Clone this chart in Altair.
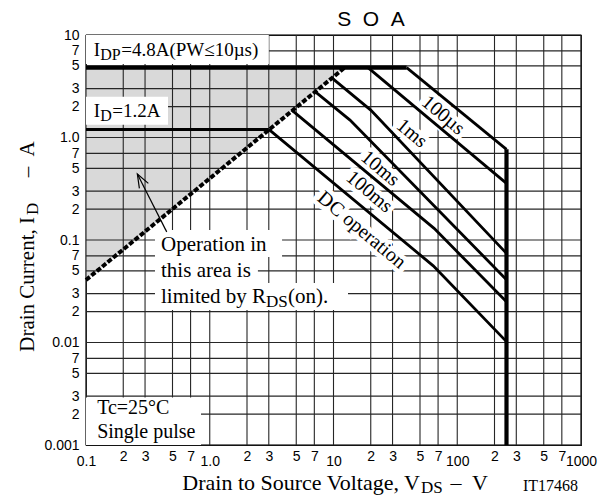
import altair as alt
import pandas as pd

# ---------------- axis ticks ----------------
X_TICKS = [0.1, 0.2, 0.3, 0.5, 0.7, 1, 2, 3, 5, 7, 10, 20, 30, 50, 70, 100, 200, 300, 500, 700, 1000]
X_LABELS = ["0.1", "2", "3", "5", "7", "1.0", "2", "3", "5", "7", "10", "2", "3", "5", "7",
            "100", "2", "3", "5", "7", "1000"]
X_DECADES = [0.1, 1, 10, 100, 1000]
Y_TICKS = [0.001, 0.002, 0.003, 0.005, 0.007, 0.01, 0.02, 0.03, 0.05, 0.07, 0.1, 0.2, 0.3, 0.5, 0.7,
           1, 2, 3, 5, 7, 10]
Y_LABELS = ["0.001", "2", "3", "5", "7", "0.01", "2", "3", "5", "7", "0.1", "2", "3", "5", "7",
            "1.0", "2", "3", "5", "7", "10"]

# ---------------- SOA curves (V, A) ----------------
SERIES = ["10us", "100us", "1ms", "10ms", "100ms", "DC"]
SERIES_V = [[39, 250], [19, 250], [9.8, 20, 250], [7.1, 13.6, 250], [4.6, 65, 250], [3.0, 64, 250]]
SERIES_I = [[4.8, 0.767], [4.8, 0.357], [3.78, 1.85, 0.074], [2.8, 1.48, 0.041],
            [1.85, 0.13, 0.025], [1.2, 0.056, 0.0102]]

IDP_V = [0.1, 39]
IDP_I = [4.8, 4.8]
ID_V = [0.1, 3.0]
ID_I = [1.2, 1.2]
VDSS_V = [250, 250]
VDSS_I = [0.767, 0.001]
RDS_V = [0.1, 12.3]
RDS_I = [0.0407, 4.8]
SHADE_V = [0.1, 12.3]
SHADE_LO = [0.0407, 4.8]
SHADE_HI = [4.8, 4.8]

# rotated curve labels
LABELS = ["100\u00b5s", "1ms", "10ms", "100ms", "DC operation"]
LABEL_V = [77.1, 42.9, 23.8, 19.5, 16.9]
LABEL_I = [1.65, 1.1, 0.5, 0.296, 0.125]

# white label boxes (v1, v2, i1, i2)
BOX_V1 = [0.1, 0.1, 0.1, 0.361, 0.361, 0.361]
BOX_V2 = [3.0, 0.46, 0.85, 3.84, 2.45, 13.1]
BOX_I1 = [5.2, 1.33, 0.001, 0.0683, 0.038, 0.0208]
BOX_I2 = [10, 2.5, 0.0029, 0.125, 0.0683, 0.038]

# arrow
ARROW_V = [0.449, 0.26]
ARROW_I = [0.12, 0.44]
HEAD_V = [0.319, 0.26, 0.27]
HEAD_I = [0.357, 0.44, 0.319]

SERIF = "Liberation Serif"
SANS = "Liberation Sans"

XS = alt.Scale(type="log", domain=[0.1, 1000], nice=False)
YS = alt.Scale(type="log", domain=[0.001, 10], nice=False)

x_expr = "[" + ",".join("'%s'" % s for s in X_LABELS) + "][indexof([" + ",".join(repr(v) for v in X_TICKS) + "], datum.value)]"
y_expr = "[" + ",".join("'%s'" % s for s in Y_LABELS) + "][indexof([" + ",".join(repr(v) for v in Y_TICKS) + "], datum.value)]"
dec_test = "indexof([" + ",".join(repr(v) for v in X_DECADES) + "], datum.value) >= 0"

XA = alt.Axis(values=X_TICKS, labelExpr=x_expr, title=None, grid=False, ticks=False, domain=False,
              labelFont=SANS, labelFontSize=14, labelColor="black",
              labelPadding={"condition": {"test": dec_test, "value": 9}, "value": 4},
              labelFlush=False, labelOverlap=False, labelBound=False)
YA = alt.Axis(values=Y_TICKS, labelExpr=y_expr, title=None, grid=False, ticks=False, domain=False,
              labelFont=SANS, labelFontSize=14, labelColor="black", labelPadding=7,
              labelFlush=False, labelOverlap=False, labelBound=False)


def X(f):
    return alt.X(f, type="quantitative", scale=XS, axis=XA)


def Y(f):
    return alt.Y(f, type="quantitative", scale=YS, axis=YA)


# ---------------- data frames ----------------
rows = []
for name, vs, is_ in zip(SERIES, SERIES_V, SERIES_I):
    for k, (v, i) in enumerate(zip(vs, is_)):
        rows.append({"name": name, "ord": k, "v": v, "i": i})
curves_df = pd.DataFrame(rows)

shade = alt.Chart(pd.DataFrame({"v": SHADE_V, "lo": SHADE_LO, "hi": SHADE_HI})).mark_area(
    color="#d9d9d9", opacity=1).encode(x=X("v"), y=Y("lo"), y2=alt.Y2("hi"))

grid_x = alt.Chart(pd.DataFrame({"v": X_TICKS})).mark_rule(color="#262626", strokeWidth=1.1).encode(x=X("v"))
grid_y = alt.Chart(pd.DataFrame({"i": Y_TICKS})).mark_rule(color="#262626", strokeWidth=1.1).encode(y=Y("i"))

boxes = alt.Chart(pd.DataFrame({"v": BOX_V1, "v2": BOX_V2, "i": BOX_I1, "i2": BOX_I2})).mark_rect(
    color="white", opacity=1).encode(x=X("v"), x2=alt.X2("v2"), y=Y("i"), y2=alt.Y2("i2"))

lab_df = pd.DataFrame({"t": LABELS, "v": LABEL_V, "i": LABEL_I})
halo = alt.Chart(lab_df).mark_text(font=SERIF, fontSize=20, angle=40, stroke="white", strokeWidth=9,
                                   color="white", align="center", baseline="middle").encode(
    x=X("v"), y=Y("i"), text="t:N")

curves = alt.Chart(curves_df).mark_line(color="black", strokeWidth=2.8).encode(
    x=X("v"), y=Y("i"), detail="name:N", order="ord:Q")


def seg(vs, is_, width, dash=None):
    kw = dict(color="black", strokeWidth=width)
    if dash:
        kw["strokeDash"] = dash
    return alt.Chart(pd.DataFrame({"v": vs, "i": is_, "o": list(range(len(vs)))})).mark_line(**kw).encode(
        x=X("v"), y=Y("i"), order="o:Q")


idp_line = seg(IDP_V, IDP_I, 4.2)
id_line = seg(ID_V, ID_I, 3.0)
vdss_line = seg(VDSS_V, VDSS_I, 4.2)
rds_line = seg(RDS_V, RDS_I, 4.0, [5, 2])
arrow = seg(ARROW_V, ARROW_I, 1.2)
head = seg(HEAD_V, HEAD_I, 1.2)

labels = alt.Chart(lab_df).mark_text(font=SERIF, fontSize=20, angle=40, color="black",
                                     align="center", baseline="middle").encode(
    x=X("v"), y=Y("i"), text="t:N")


def txt(s, v, i, size=20, dx=0, dy=0):
    return alt.Chart(pd.DataFrame({"t": [s], "v": [v], "i": [i]})).mark_text(
        font=SERIF, fontSize=size, color="black", align="left", baseline="middle", dx=dx, dy=dy).encode(
        x=X("v"), y=Y("i"), text="t:N")


annots = [
    txt("I", 0.1154, 7.14, 19),
    txt("DP", 0.1154, 7.14, 16, dx=6.5, dy=5),
    txt("=4.8A(PW\u226410\u00b5s)", 0.1154, 7.14, 19, dx=27.5),
    txt("I", 0.1154, 1.8, 19),
    txt("D", 0.1154, 1.8, 16, dx=6.5, dy=5),
    txt("=1.2A", 0.1154, 1.8, 19, dx=18.5),
    txt("Operation in", 0.404, 0.0894, 21),
    txt("this area is", 0.404, 0.0501, 21),
    txt("limited by R", 0.404, 0.028, 21),
    txt("DS", 0.404, 0.028, 17, dx=105, dy=5),
    txt("(on).", 0.404, 0.028, 21, dx=127),
    txt("Tc=25\u00b0C", 0.123, 0.0023, 20),
    txt("Single pulse", 0.123, 0.00135, 20),
]


def ptxt(s, x, y, size=21, align="left", angle=0, dx=0, dy=0, font=SERIF):
    kw = dict(font=font, fontSize=size, color="black", align=align, baseline="middle", dx=dx, dy=dy)
    if angle:
        kw["angle"] = angle
    return alt.Chart(pd.DataFrame({"t": [s]})).mark_text(**kw).encode(
        x=alt.value(x), y=alt.value(y), text="t:N")


titles = [
    ptxt("S\u00a0\u00a0O\u00a0\u00a0A", 285, -15, 21, align="center", font=SANS),
    ptxt("Drain to Source Voltage, V", 334, 448, 22, align="right"),
    ptxt("DS", 335, 453, 17),
    ptxt("\u2013", 370, 448, 22, align="center"),
    ptxt("V", 394, 448, 22, align="center"),
    ptxt("IT17468", 437, 451, 16),
    ptxt("Drain Current, I", -58, 182, 21, align="right", angle=270),
    ptxt("D", -53, 180, 17, align="left", angle=270),
    ptxt("\u2013", -58, 137, 21, align="center", angle=270),
    ptxt("A", -58, 114, 21, align="center", angle=270),
]

chart = alt.layer(
    shade, grid_x, grid_y, boxes, halo, curves, idp_line, id_line, vdss_line, rds_line,
    arrow, head, labels, *annots, *titles
).properties(
    width=495, height=410,
    padding={"left": 78, "top": 27, "right": 22, "bottom": 57},
    autosize=alt.AutoSizeParams(type="none"),
    background="white",
).configure_view(stroke="black", strokeWidth=1.2)

chart.save("out.html", embed_options={"renderer": "svg", "actions": False})
